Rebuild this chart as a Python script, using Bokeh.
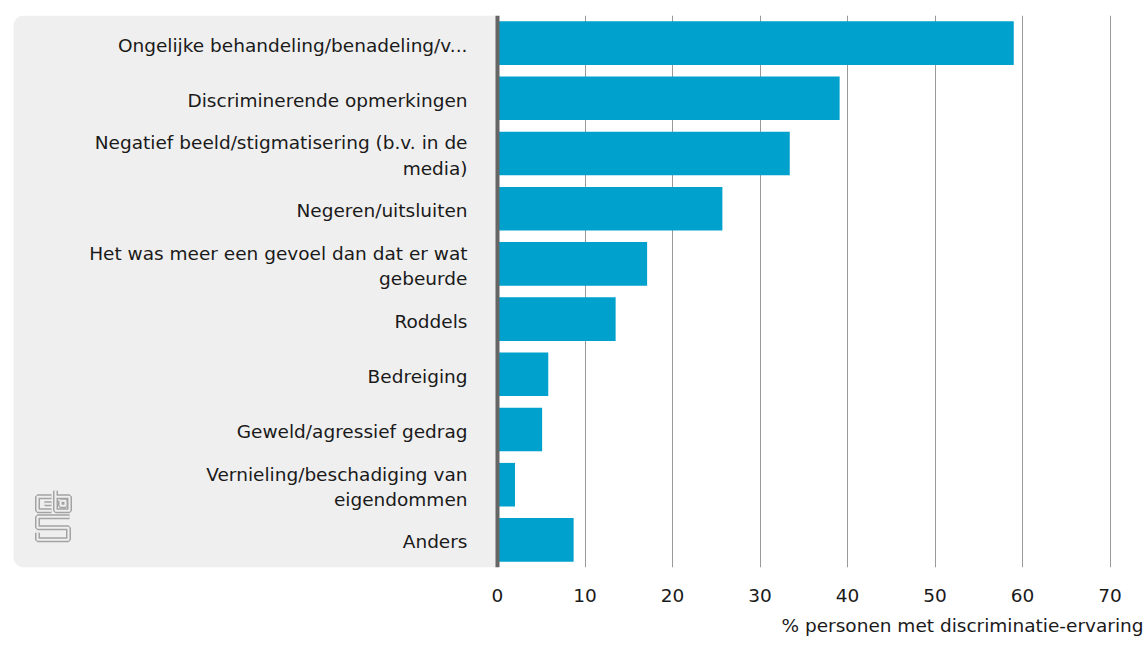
from bokeh.plotting import figure
from bokeh.models import (FactorRange, Range1d, FixedTicker, Span, BoxAnnotation,
                          Title, ColumnDataSource)
from bokeh.core.properties import value
from bokeh.embed import file_html
from bokeh.resources import INLINE

# ---- data ----
categories = [
    "Ongelijke behandeling/benadeling/v...",
    "Discriminerende opmerkingen",
    "Negatief beeld/stigmatisering (b.v. in de\nmedia)",
    "Negeren/uitsluiten",
    "Het was meer een gevoel dan dat er wat\ngebeurde",
    "Roddels",
    "Bedreiging",
    "Geweld/agressief gedrag",
    "Vernieling/beschadiging van\neigendommen",
    "Anders",
]
values = [59.0, 39.1, 33.4, 25.7, 17.1, 13.5, 5.8, 5.1, 2.0, 8.7]
x_ticks = [0, 10, 20, 30, 40, 50, 60, 70]
x_title = "% personen met discriminatie-ervaring"

# ---- layout constants (pixels) ----
W, H = 1145, 645
FRAME_RIGHT = 1143
PX_PER_UNIT = 8.75          # pixels per percentage point
ZERO_PX = 497               # x pixel of 0 inside the frame
FRAME_TOP = 15
FRAME_BOTTOM = 566.7
FONT = "DejaVu Sans"
FS = "18.5px"
TXT = "#1a1a1a"
BLUE = "#00a1cd"
PANEL = "#efefef"

x_start = -ZERO_PX / PX_PER_UNIT
x_end = (FRAME_RIGHT - ZERO_PX) / PX_PER_UNIT
ROW = (FRAME_BOTTOM - FRAME_TOP) / len(categories)

p = figure(width=W, height=H, output_backend="svg", toolbar_location=None,
           y_range=FactorRange(factors=list(reversed(categories))),
           x_range=Range1d(x_start, x_end),
           min_border_left=0, min_border_right=W - FRAME_RIGHT,
           min_border_top=FRAME_TOP,
           min_border_bottom=int(round(H - FRAME_BOTTOM)))
p.outline_line_color = None
p.background_fill_color = "white"
p.border_fill_color = "white"

# grey label panel
panel = BoxAnnotation(left=(13 - ZERO_PX) / PX_PER_UNIT, right=0,
                      fill_color=PANEL, fill_alpha=1, line_color=None,
                      level="underlay",
                      border_radius=dict(top_left=10, bottom_left=10,
                                         top_right=0, bottom_right=0))
p.add_layout(panel)

src = ColumnDataSource(dict(cat=categories, val=values))
p.hbar(y="cat", left=0, right="val", height=0.79, source=src,
       fill_color=BLUE, line_color=None)

p.text(x=0, y="cat", text="cat", source=src, x_offset=-30, y_offset=2,
       text_align="right", text_baseline="middle",
       text_font=value(FONT), text_font_size=FS,
       text_color=TXT, text_line_height=1.2)

# cbs logo (decoration) in page pixel coordinates
def to_data(pts):
    xs = [(px - ZERO_PX) / PX_PER_UNIT for px, py in pts]
    ys = [(FRAME_BOTTOM - py) / ROW for px, py in pts]
    return xs, ys

logo_paths = [
    [(51, 496), (37, 496), (37, 510), (51, 510)],
    [(51, 503), (44, 503)],
    [(55, 490), (55, 510), (69, 510), (69, 496), (55, 496)],
    [(60, 500), (65, 500), (65, 505), (60, 505), (60, 500)],
    [(69, 516), (37, 516), (37, 527), (68, 527), (68, 539), (37, 539), (37, 532)],
]
lx, ly = zip(*[to_data(pth) for pth in logo_paths])
p.multi_line(xs=list(lx), ys=list(ly), line_color="#a3a3a3", line_width=5)
p.multi_line(xs=list(lx), ys=list(ly), line_color=PANEL, line_width=2)

# axis line at zero
p.add_layout(Span(location=0, dimension="height", line_color="#666666",
                  line_width=4))

# axes
p.yaxis.visible = False
p.xaxis.ticker = FixedTicker(ticks=x_ticks)
p.xaxis.axis_line_color = None
p.xaxis.major_tick_line_color = None
p.xaxis.minor_tick_line_color = None
p.xaxis.major_label_standoff = 15
p.xaxis.major_label_text_font = FONT
p.xaxis.major_label_text_font_size = FS
p.xaxis.major_label_text_color = TXT

p.ygrid.grid_line_color = None
p.xgrid.ticker = FixedTicker(ticks=[t for t in x_ticks if t > 0])
p.xgrid.grid_line_color = "#999999"
p.xgrid.grid_line_width = 1

# x-axis title, right aligned under the axis
title = Title(text=x_title, align="right", text_font=FONT,
              text_font_size=FS, text_font_style="normal",
              text_color=TXT, standoff=17)
p.add_layout(title, "below")

open("out.html", "w").write(file_html(p, INLINE))
